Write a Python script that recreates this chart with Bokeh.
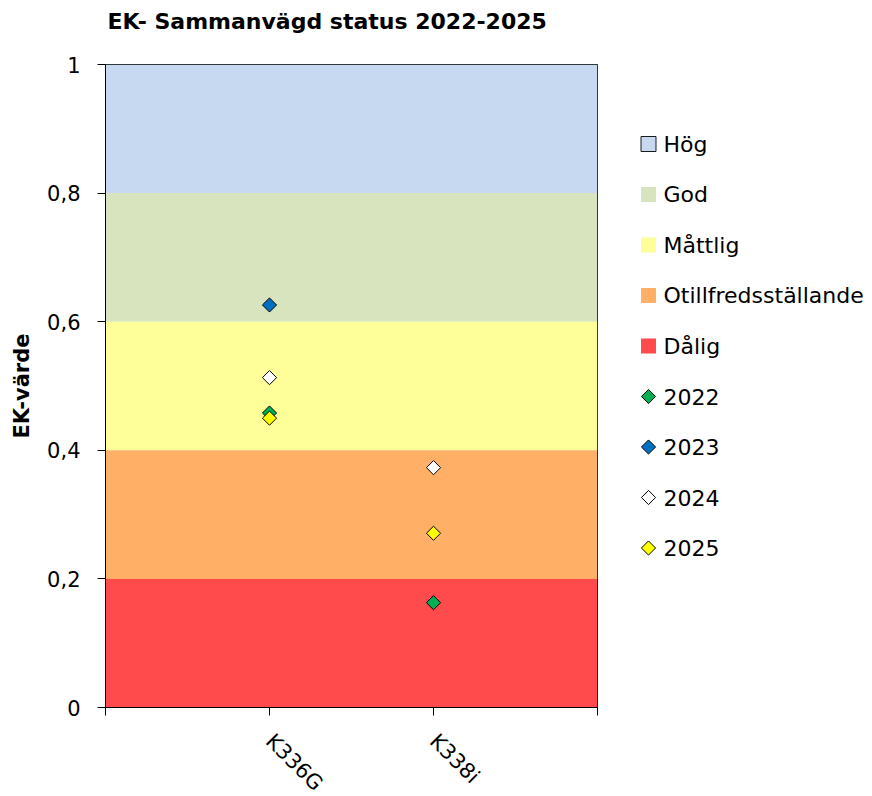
import math
from bokeh.plotting import figure
from bokeh.layouts import row
from bokeh.models import ColumnDataSource, FixedTicker, Range1d, Title
from bokeh.embed import file_html
from bokeh.resources import INLINE
from bokeh.core.properties import value

# ---- data ----
stations = ["K336G", "K338i"]
years = ["2022", "2023", "2024", "2025"]
ek_2022 = [0.458, 0.163]
ek_2023 = [0.626, float("nan")]
ek_2024 = [0.513, 0.373]
ek_2025 = [0.450, 0.271]
year_values = [ek_2022, ek_2023, ek_2024, ek_2025]
year_colors = ["#00B050", "#0070C0", "#FFFFFF", "#FFFF00"]

classes = ["Hög", "God", "Måttlig", "Otillfredsställande", "Dålig"]
class_lower = [0.8, 0.6, 0.4, 0.2, 0.0]
class_upper = [1.0, 0.8, 0.6, 0.4, 0.2]
class_colors = ["#C6D9F1", "#D7E4BD", "#FFFF99", "#FFB066", "#FF4B4B"]

y_ticks = [0, 0.2, 0.4, 0.6, 0.8, 1.0]
y_tick_labels = ["0", "0,2", "0,4", "0,6", "0,8", "1"]

title_text = "EK- Sammanvägd status 2022-2025"
y_label = "EK-värde"

FONT = "DejaVu Sans"
MARKER_SIZE = 10

x_pos = [i + 1 for i in range(len(stations))]
x_min, x_max = 0, len(stations) + 1

TOTAL_H = 788
TOP, FH = 64, 643
p = figure(output_backend="svg", toolbar_location=None, title=None,
           frame_width=492, frame_height=FH,
           min_border_left=105, min_border_top=TOP, min_border_right=23,
           min_border_bottom=TOTAL_H - TOP - FH,
           x_range=Range1d(x_min, x_max), y_range=Range1d(0, 1),
           background_fill_color="white", border_fill_color="white")

# empty spacer panel next to the plot area, then the title above it
spacer = Title(text=" ", text_font_size="1px", standoff=21)
main_title = Title(text=title_text, text_font=FONT, text_font_style="bold",
                   text_font_size="22px", text_color="black", align="left",
                   offset=2, standoff=13)
p.add_layout(spacer, "above")
p.add_layout(main_title, "above")

p.xgrid.visible = False
p.ygrid.visible = False
p.outline_line_color = "black"
p.outline_line_width = 1

for i, cls in enumerate(classes):
    src = ColumnDataSource(dict(left=[x_min], right=[x_max],
                                bottom=[class_lower[i]], top=[class_upper[i]]))
    p.quad(left="left", right="right", bottom="bottom", top="top", source=src,
           fill_color=class_colors[i], line_color=None)

for yr, vals, col in zip(years, year_values, year_colors):
    xs = [x for x, v in zip(x_pos, vals) if not math.isnan(v)]
    ys = [v for v in vals if not math.isnan(v)]
    src = ColumnDataSource(dict(x=xs, y=ys))
    p.scatter("x", "y", source=src, marker="square", angle=math.pi / 4,
              size=MARKER_SIZE, fill_color=col, line_color="black", line_width=1)

# axes
p.yaxis.ticker = FixedTicker(ticks=y_ticks)
p.yaxis.major_label_overrides = {t: l for t, l in zip(y_ticks, y_tick_labels)}
p.yaxis.minor_tick_line_color = None
p.yaxis.major_tick_in = 0
p.yaxis.major_tick_out = 8
p.yaxis.major_label_standoff = 17
p.yaxis.axis_label = y_label
p.yaxis.axis_label_text_font = FONT
p.yaxis.axis_label_text_font_style = "bold"
p.yaxis.axis_label_text_font_size = "21px"
p.yaxis.axis_label_text_color = "black"
p.yaxis.axis_label_standoff = 10
p.yaxis.major_label_text_font = FONT
p.yaxis.major_label_text_font_size = "21px"
p.yaxis.major_label_text_color = "black"

x_ticks = list(range(x_min, x_max + 1))
p.xaxis.ticker = FixedTicker(ticks=x_ticks)
overrides = {t: " " for t in x_ticks}
for x, s in zip(x_pos, stations):
    overrides[x] = s
p.xaxis.major_label_overrides = overrides
p.xaxis.minor_tick_line_color = None
p.xaxis.major_tick_in = 0
p.xaxis.major_tick_out = 8
p.xaxis.major_label_orientation = -math.pi / 4
p.xaxis.major_label_standoff = 22
p.xaxis.major_label_text_font = FONT
p.xaxis.major_label_text_font_size = "21px"
p.xaxis.major_label_text_color = "black"

for ax in (p.xaxis, p.yaxis):
    ax.axis_line_color = "black"
    ax.major_tick_line_color = "black"

# ---- legend (separate panel; its frame is aligned with the main frame) ----
LEG_W = 252
leg = figure(output_backend="svg", toolbar_location=None,
             frame_width=LEG_W, frame_height=FH,
             min_border_left=0, min_border_right=0, min_border_top=TOP,
             min_border_bottom=TOTAL_H - TOP - FH,
             x_range=Range1d(0, LEG_W), y_range=Range1d(TOP + FH, TOP),
             x_axis_location=None, y_axis_location=None,
             background_fill_color="white", border_fill_color="white")
leg.outline_line_color = None
leg.xgrid.visible = False
leg.ygrid.visible = False

first_y, pitch = 143.5, 50.5
sym_x, txt_x = 28, 43

labels = classes + years
row_y = [first_y + i * pitch for i in range(len(labels))]
n_cls = len(classes)

cls_src = ColumnDataSource(dict(
    x=[sym_x] * n_cls, y=row_y[:n_cls], color=class_colors,
    line=["#1a1a1a"] + [None] * (n_cls - 1)))
leg.scatter("x", "y", source=cls_src, marker="square", size=15,
            fill_color="color", line_color="line", line_width=1)

yr_src = ColumnDataSource(dict(x=[sym_x] * len(years), y=row_y[n_cls:], color=year_colors))
leg.scatter("x", "y", source=yr_src, marker="square", angle=math.pi / 4,
            size=MARKER_SIZE, fill_color="color", line_color="black", line_width=1)

txt_src = ColumnDataSource(dict(x=[txt_x] * len(labels), y=row_y, text=labels))
leg.text("x", "y", text="text", source=txt_src, text_font=value(FONT),
         text_font_size="22px", text_baseline="middle", text_align="left",
         text_color="black")

layout = row(p, leg)
open("out.html", "w").write(file_html(layout, INLINE))
